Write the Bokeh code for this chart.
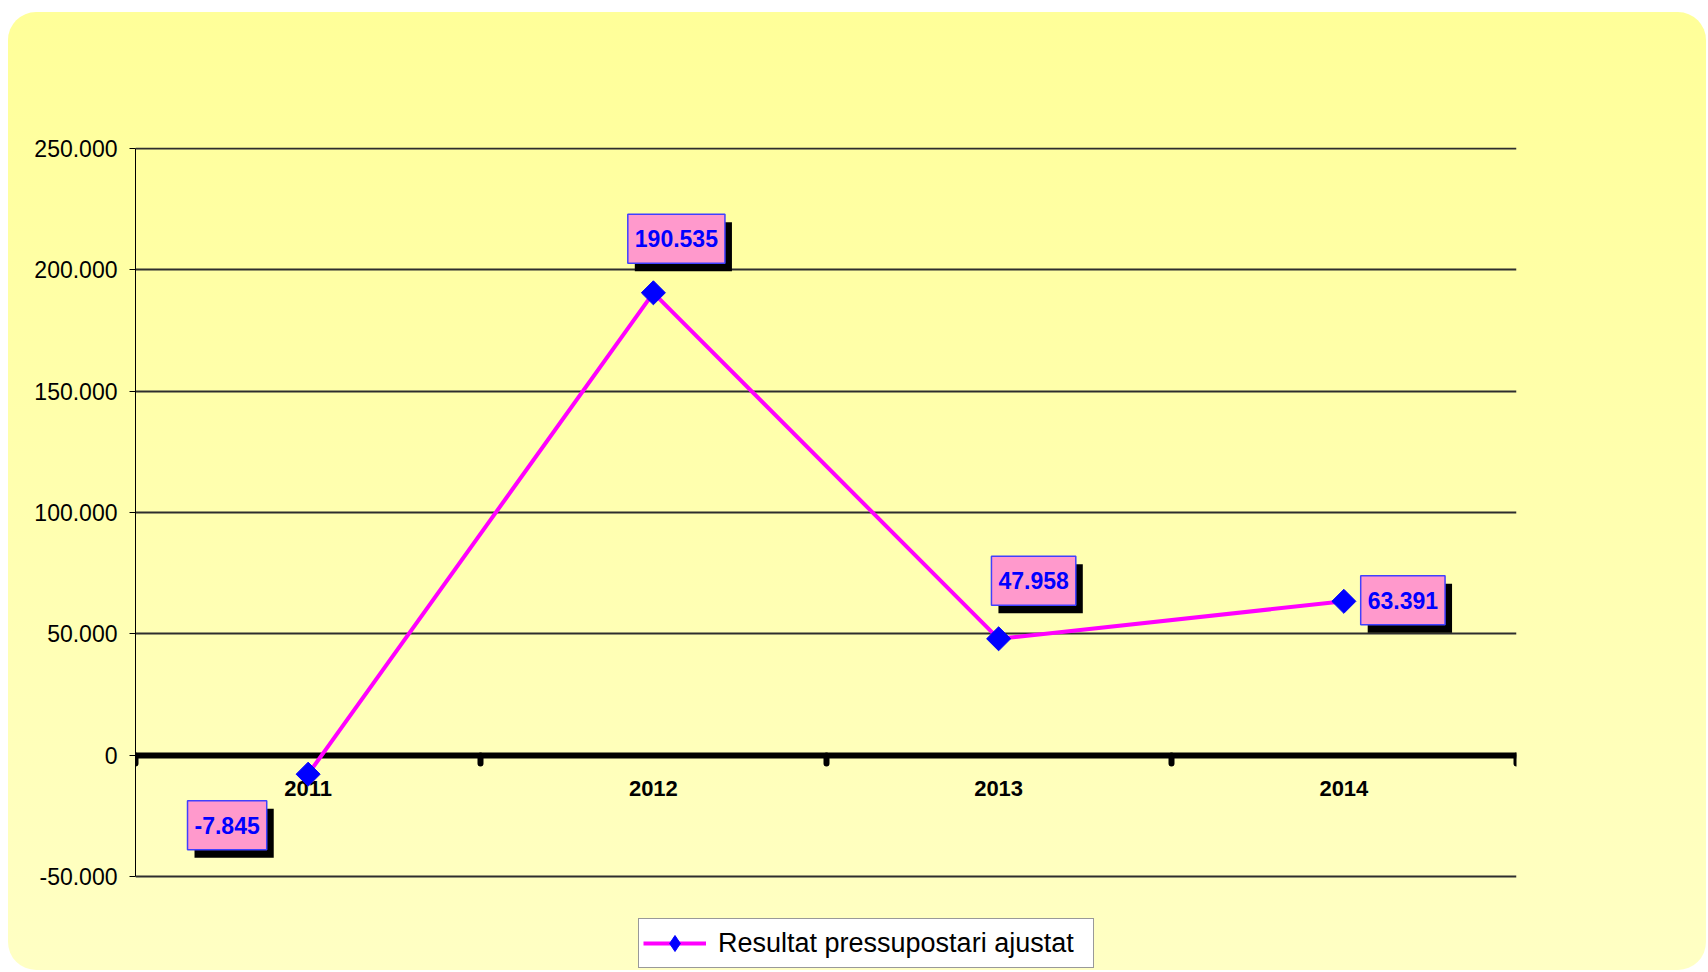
import numpy as np
from bokeh.plotting import figure
from bokeh.models import ColumnDataSource, Range1d, FixedTicker, Legend, LegendItem
from bokeh.core.properties import value
from bokeh.embed import file_html
from bokeh.resources import INLINE

# ---------------- data ----------------
years = ["2011", "2012", "2013", "2014"]
values = [-7845, 190535, 47958, 63391]
series_name = "Resultat pressupostari ajustat"
y_ticks = [-50000, 0, 50000, 100000, 150000, 200000, 250000]
y_tick_labels = ["-50.000", "0", "50.000", "100.000", "150.000", "200.000", "250.000"]
value_labels = [f"{v:,}".replace(",", ".") for v in values]

# ---------------- label placement (screen px, +down) ----------------
label_dx = [-81, 23, 35, 59]
label_dy = [51, -54, -58, -1]
shadow_dx, shadow_dy = 7, 8

xs = [i + 0.5 for i in range(len(years))]
bounds = list(range(len(years) + 1))

# layout: tick span occupies 728 px, legend strip 94 px below it, 1 px headroom on top
W, H = 1698, 958
span_px, below_px, above_px = 728, 94, 1
upp = (y_ticks[-1] - y_ticks[0]) / span_px
y_lo = y_ticks[0] - below_px * upp
y_hi = y_ticks[-1] + above_px * upp

p = figure(width=W, height=H, output_backend="svg", toolbar_location=None,
           x_axis_location="above",
           x_range=Range1d(0, len(years)), y_range=Range1d(y_lo, y_hi),
           min_border_left=127, min_border_right=190, min_border_top=136 - above_px,
           min_border_bottom=0, margin=(12, 2, 2, 8))
p.background_fill_color = None
p.border_fill_color = None
p.outline_line_color = None
p.styles = {"background": "linear-gradient(to bottom, #ffff99 0%, #ffffc4 100%)",
            "border-radius": "28px"}

src = ColumnDataSource(dict(
    x=xs, y=values, label=value_labels, dx=label_dx, dy=label_dy,
    sdx=[d + shadow_dx for d in label_dx], sdy=[d + shadow_dy for d in label_dy]))

line_r = p.line("x", "y", source=src, line_color="#ff00ff", line_width=4, level="overlay")
sc_r = p.scatter("x", "y", source=src, marker="square", size=17, angle=np.pi / 4,
                 fill_color="#0000ff", line_color="#0000ff", level="overlay")
# legend-only glyph (diamond shape for the legend swatch; never drawn in the plot)
leg_marker = p.scatter(x=[float("nan")], y=[float("nan")], marker="diamond", size=17,
                       fill_color="#0000ff", line_color="#0000ff")

pad = dict(left=7, right=7, top=16, bottom=16)
common = dict(source=src, text="label", text_font=value("Liberation Sans"),
              text_font_style="bold", text_font_size="23px", text_align="center",
              text_baseline="middle", padding=pad, level="overlay")
p.text("x", "y", x_offset="sdx", y_offset="sdy", text_color="black",
       background_fill_color="black", **common)
p.text("x", "y", x_offset="dx", y_offset="dy", text_color="#0000ff",
       background_fill_color="#ff99cc", border_line_color="#4040ff",
       border_line_width=1.5, **common)

# ---------------- x axis (drawn at zero, labels below the line) ----------------
xa = p.xaxis[0]
xa.fixed_location = 0
xa.ticker = FixedTicker(ticks=xs, minor_ticks=bounds)
xa.major_label_overrides = {x: y for x, y in zip(xs, years)}
xa.major_tick_line_color = None
xa.major_tick_out = 0
xa.major_tick_in = 0
xa.minor_tick_line_color = "black"
xa.minor_tick_line_width = 6
xa.minor_tick_out = 0
xa.minor_tick_in = 8
xa.minor_tick_line_cap = "round"
xa.axis_line_width = 6
xa.axis_line_color = "black"
xa.major_label_text_font = "Liberation Sans"
xa.major_label_text_font_size = "22px"
xa.major_label_text_font_style = "bold"
xa.major_label_text_color = "black"
xa.major_label_standoff = -41
p.xgrid.visible = False

# ---------------- y axis ----------------
ya = p.yaxis[0]
yt = FixedTicker(ticks=y_ticks, minor_ticks=[])
ya.ticker = yt
ya.bounds = (y_ticks[0], y_ticks[-1])
ya.major_label_overrides = {t: l for t, l in zip(y_ticks, y_tick_labels)}
ya.major_tick_out = 6
ya.major_tick_in = 0
ya.major_tick_line_color = "black"
ya.minor_tick_line_color = None
ya.axis_line_color = "black"
ya.axis_line_width = 1
ya.major_label_text_font = "Liberation Sans"
ya.major_label_text_font_size = "23px"
ya.major_label_text_color = "black"
ya.major_label_standoff = 12
p.ygrid.ticker = yt
p.ygrid.grid_line_color = "#2e2e2e"
p.ygrid.grid_line_width = 2

# ---------------- legend ----------------
leg = Legend(items=[LegendItem(label=series_name, renderers=[line_r, leg_marker])],
             location=(503, 2), margin=0, padding=4, spacing=0,
             glyph_width=63, glyph_height=40, label_standoff=12, label_width=371,
             label_text_font="Liberation Sans", label_text_font_size="27px",
             label_text_color="black", background_fill_color="white",
             background_fill_alpha=1, border_line_color="#333333",
             border_line_width=1)
p.add_layout(leg)

open("out.html", "w").write(file_html(p, INLINE))
